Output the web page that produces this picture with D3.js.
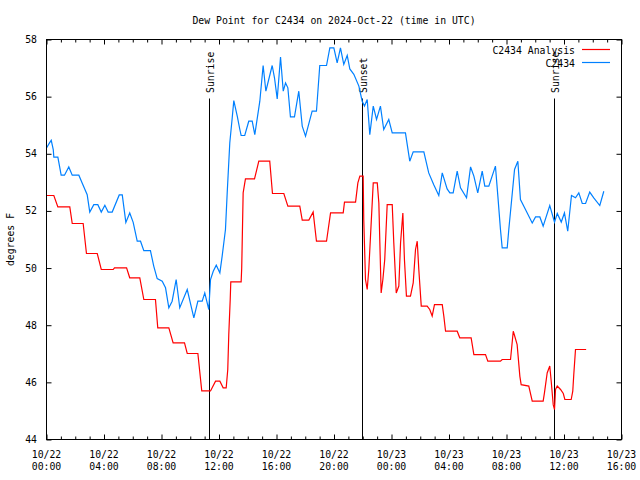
<!DOCTYPE html>
<html><head><meta charset="utf-8">
<script src="https://cdn.jsdelivr.net/npm/d3@7"></script>
<style>
body{margin:0;background:#fff}
text{font-family:"DejaVu Sans Mono","Liberation Mono",monospace;font-size:9.8px;fill:#000}
</style>
</head><body>
<svg id="chart" width="640" height="480"></svg>
<script>
// ---------- data ----------
const chartTitle = "Dew Point for C2434 on 2024-Oct-22 (time in UTC)";
const yAxisLabel = "degrees F";
const seriesNames = ["C2434 Analysis", "C2434"];
const seriesColors = ["#ff0000", "#0080ff"];

// x ticks: hours since 2024-10-22 00:00 UTC
const xTickHours = [0, 4, 8, 12, 16, 20, 24, 28, 32, 36, 40];
const xTickDates = ["10/22","10/22","10/22","10/22","10/22","10/22","10/23","10/23","10/23","10/23","10/23"];
const xTickTimes = ["00:00","04:00","08:00","12:00","16:00","20:00","00:00","04:00","08:00","12:00","16:00"];
const yTicks = [44, 46, 48, 50, 52, 54, 56, 58];

// sun events (hours since 10/22 00:00 UTC)
const eventNames = ["Sunrise", "Sunset", "Sunrise"];
const eventHours = [11.30, 21.95, 35.28];

// analysis series (red)
const anaHours = [0,0.51,0.79,1.62,1.79,2.55,2.78,3.53,3.81,4.64,4.73,5.57,5.79,6.49,6.77,7.58,7.74,8.51,8.81,9.60,9.79,10.53,10.80,11.41,11.76,12.06,12.29,12.50,12.61,12.68,12.78,12.82,13.54,13.58,13.68,13.84,14.47,14.77,15.53,15.72,16.51,16.79,17.62,17.79,18.25,18.55,18.78,19.48,19.76,20.64,20.73,21.50,21.66,21.80,22.03,22.07,22.19,22.31,22.42,22.54,22.73,23.01,23.12,23.19,23.28,23.40,23.53,23.70,24.05,24.16,24.33,24.51,24.63,24.79,24.90,25.04,25.32,25.51,25.67,25.79,25.90,26.07,26.48,26.66,26.83,26.99,27.53,27.64,27.76,28.57,28.75,29.54,29.73,30.54,30.70,31.58,31.70,32.28,32.47,32.56,32.74,32.93,33.02,33.55,33.79,34.55,34.64,34.83,35.01,35.11,35.25,35.34,35.41,35.53,35.76,35.95,36.06,36.50,36.61,36.68,36.80,37.54];
const anaValues = [52.54,52.54,52.14,52.14,51.56,51.56,50.51,50.51,49.95,49.95,50.01,50.01,49.66,49.66,48.90,48.90,47.91,47.91,47.38,47.38,47.01,47.01,45.70,45.70,46.04,46.04,45.81,45.81,46.45,47.67,48.90,49.52,49.52,50.00,52.63,53.12,53.12,53.74,53.74,52.61,52.61,52.17,52.17,51.68,51.68,51.96,50.94,50.94,51.93,51.93,52.31,52.31,52.98,53.22,53.22,51.70,49.60,49.25,49.95,51.12,52.98,52.98,52.28,50.88,49.13,49.60,50.30,52.22,52.22,50.88,49.13,49.37,50.88,51.93,50.30,49.02,49.02,49.48,50.65,50.94,49.95,48.67,48.67,48.55,48.32,48.72,48.72,48.32,47.79,47.79,47.56,47.56,46.97,46.97,46.74,46.74,46.80,46.80,47.79,47.64,47.32,46.21,45.92,45.87,45.34,45.34,45.63,46.33,46.57,46.04,45.22,45.05,45.75,45.87,45.75,45.61,45.40,45.40,45.69,46.27,47.15,47.15];

// observed series (blue)
const obsHours = [0,0.21,0.33,0.47,0.51,0.79,1.02,1.25,1.55,1.79,2.25,2.48,2.83,3.01,3.29,3.57,3.81,4.06,4.29,4.57,5.06,5.27,5.52,5.79,6.03,6.31,6.54,6.77,7.23,7.46,7.70,8.05,8.28,8.51,8.74,9.02,9.27,9.79,10.25,10.53,10.83,11.01,11.29,11.41,11.60,11.81,12.06,12.22,12.45,12.57,12.75,12.92,13.03,13.27,13.45,13.54,13.79,14.07,14.31,14.49,14.84,15.07,15.26,15.46,15.70,15.86,16.05,16.28,16.47,16.63,16.79,16.97,17.25,17.55,17.79,18.02,18.48,18.78,19.01,19.48,19.71,19.99,20.22,20.45,20.68,20.92,21.10,21.38,21.73,21.96,22.12,22.31,22.49,22.73,22.96,23.23,23.46,23.81,24.05,24.97,25.27,25.51,26.25,26.59,26.94,27.29,27.53,27.87,28.06,28.29,28.57,28.80,29.22,29.50,29.73,30.00,30.31,30.49,30.77,31.23,31.40,31.58,31.70,32.05,32.16,32.56,32.79,32.97,33.32,33.79,34.02,34.32,34.55,35.01,35.34,35.53,35.81,36.03,36.26,36.52,36.80,37.03,37.27,37.50,37.79,38.07,38.49,38.77];
const obsValues = [54.20,54.38,54.47,54.15,53.88,53.88,53.25,53.25,53.54,53.25,53.25,52.98,52.57,51.96,52.22,52.22,51.96,52.20,51.96,51.96,52.56,52.56,51.60,51.93,51.60,50.94,50.94,50.61,50.61,50.07,49.63,49.54,49.31,48.61,48.84,49.60,48.61,49.25,48.26,48.84,48.84,49.13,48.55,49.60,49.89,50.10,49.83,50.42,51.35,52.63,54.38,55.26,55.86,55.32,54.85,54.64,54.64,55.14,55.14,54.67,55.84,57.09,56.19,56.60,57.09,56.66,55.92,57.39,56.19,56.48,56.31,55.29,55.29,56.19,54.97,54.62,55.49,55.49,57.09,57.09,57.71,57.71,57.18,57.71,57.13,57.44,56.97,56.78,56.37,55.84,55.67,55.90,54.67,55.67,55.20,55.67,54.85,55.20,54.73,54.73,53.74,54.07,54.07,53.33,52.92,52.54,53.33,52.77,52.63,52.63,53.39,52.81,52.46,53.54,53.22,52.63,53.39,52.87,52.87,53.57,52.51,51.35,50.71,50.71,51.35,53.45,53.74,52.40,52.05,51.58,51.79,51.79,51.47,52.19,51.61,51.91,51.61,51.93,51.29,52.54,52.46,52.63,52.26,52.26,52.66,52.46,52.19,52.69];

// ---------- drawing ----------
const svg = d3.select("#chart");
svg.append("rect").attr("width", 640).attr("height", 480).attr("fill", "#fff");

const L = 46.5, R = 621.5, T = 39.5, B = 439.5;
const x = d3.scaleLinear().domain([0, 40]).range([L, R]);
const y = d3.scaleLinear().domain([44, 58]).range([B, T]);

// title
svg.append("text").attr("x", (L + R) / 2).attr("y", 24).attr("text-anchor", "middle").text(chartTitle);

// y axis label
svg.append("text").attr("transform", `translate(14,${(T + B) / 2}) rotate(-90)`)
  .attr("text-anchor", "middle").text(yAxisLabel);

const minorHours = d3.range(0, 41).filter(h => h % 4 !== 0);

// bottom ticks (inward)
const gB = svg.append("g").attr("transform", `translate(0,${B})`);
gB.call(d3.axisBottom(x).tickValues(xTickHours).tickSize(-5).tickFormat(""));
gB.append("g").call(d3.axisBottom(x).tickValues(minorHours).tickSize(-3).tickFormat(""));
// top mirror ticks
const gT = svg.append("g").attr("transform", `translate(0,${T})`);
gT.call(d3.axisTop(x).tickValues(xTickHours).tickSize(-5).tickFormat(""));
gT.append("g").call(d3.axisTop(x).tickValues(minorHours).tickSize(-3).tickFormat(""));
// left / right ticks
const gL = svg.append("g").attr("transform", `translate(${L},0)`);
gL.call(d3.axisLeft(y).tickValues(yTicks).tickSize(-5).tickFormat(""));
const gR = svg.append("g").attr("transform", `translate(${R},0)`);
gR.call(d3.axisRight(y).tickValues(yTicks).tickSize(-5).tickFormat(""));
svg.selectAll(".domain").remove();
svg.selectAll(".tick line").attr("stroke", "#000").attr("stroke-width", 1);

// x tick labels
xTickHours.forEach((h, i) => {
  const t = svg.append("text").attr("x", x(h)).attr("text-anchor", "middle");
  t.append("tspan").attr("x", x(h)).attr("y", 457.5).text(xTickDates[i]);
  t.append("tspan").attr("x", x(h)).attr("y", 469.5).text(xTickTimes[i]);
});
// y tick labels
yTicks.forEach(v => {
  svg.append("text").attr("x", 37).attr("y", y(v) + 3.5).attr("text-anchor", "end").text(v);
});

// sun event lines + labels
eventHours.forEach((h, i) => {
  const xp = Math.round(x(h)) + 0.5;
  svg.append("line").attr("x1", xp).attr("x2", xp).attr("y1", 98.5).attr("y2", B)
    .attr("stroke", "#000").attr("stroke-width", 1);
  svg.append("text").attr("transform", `translate(${xp + 4.5},93) rotate(-90)`)
    .attr("text-anchor", "start").text(eventNames[i]);
});

// data lines
const line = d3.line().x(d => x(d[0])).y(d => y(d[1]));
const anaData = anaHours.map((h, i) => [h, anaValues[i]]);
const obsData = obsHours.map((h, i) => [h, obsValues[i]]);
svg.append("path").datum(anaData).attr("d", line).attr("fill", "none")
  .attr("stroke", seriesColors[0]).attr("stroke-width", 1.2);
svg.append("path").datum(obsData).attr("d", line).attr("fill", "none")
  .attr("stroke", seriesColors[1]).attr("stroke-width", 1.2);

// border
svg.append("rect").attr("x", L).attr("y", T).attr("width", R - L).attr("height", B - T)
  .attr("fill", "none").attr("stroke", "#000").attr("stroke-width", 1);

// legend
seriesNames.forEach((n, i) => {
  const yy = 49.5 + i * 13;
  svg.append("text").attr("x", 575).attr("y", yy + 4).attr("text-anchor", "end").text(n);
  svg.append("line").attr("x1", 582).attr("x2", 610).attr("y1", yy).attr("y2", yy)
    .attr("stroke", seriesColors[i]).attr("stroke-width", 1.2);
});
</script>
</body></html>
